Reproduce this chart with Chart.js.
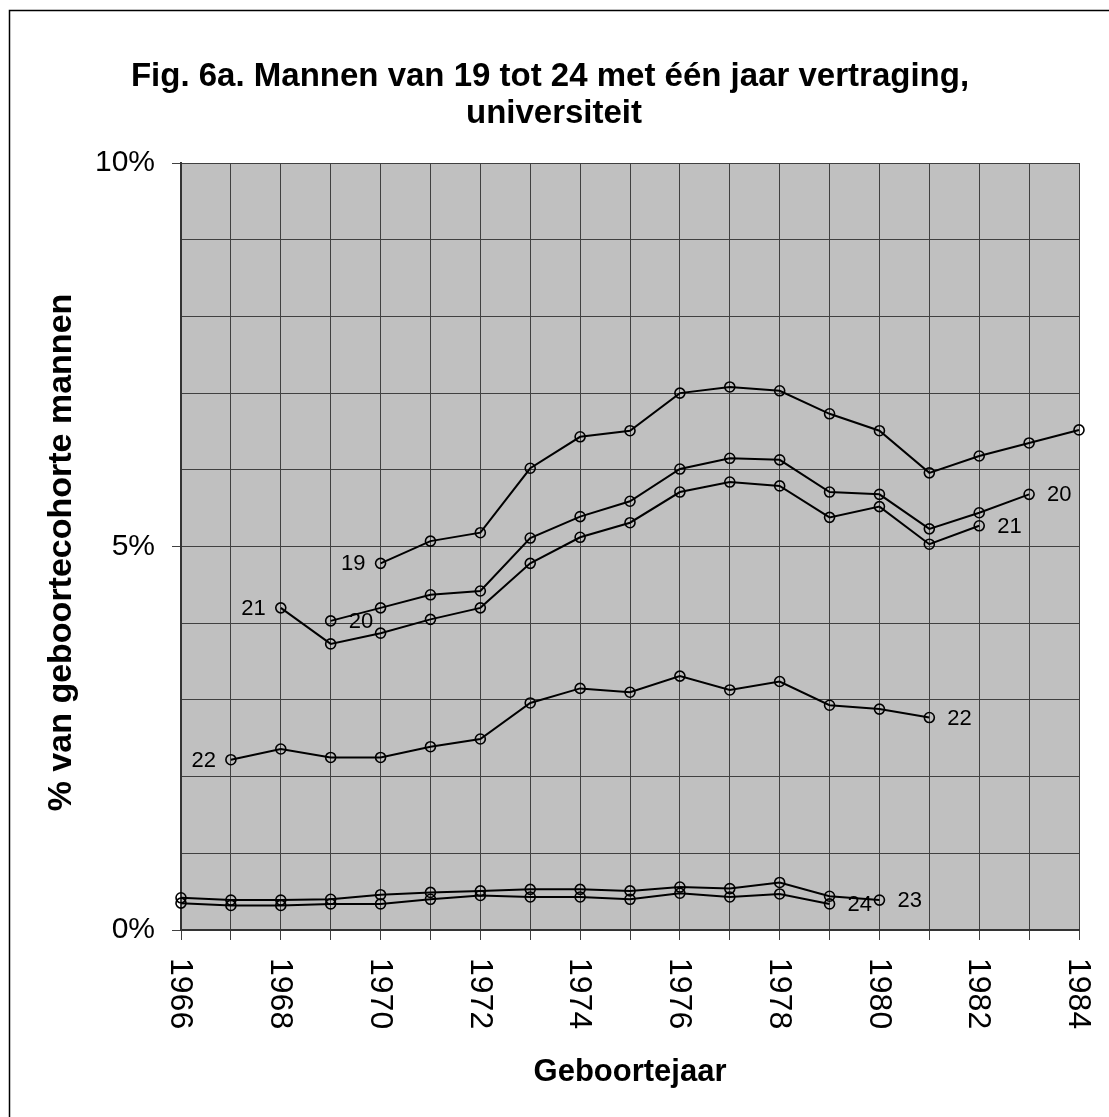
<!DOCTYPE html>
<html>
<head>
<meta charset="utf-8">
<script src="https://cdn.jsdelivr.net/npm/chart.js@4/dist/chart.umd.min.js"></script>
<style>
    html, body { margin: 0; padding: 0; background: #ffffff; }
    #wrap { width: 1109px; height: 1117px; }
</style>
</head>
<body>
<div id="wrap"><canvas id="chart" width="1109" height="1117"></canvas></div>
<script>
const years = ["1966", "1967", "1968", "1969", "1970", "1971", "1972", "1973", "1974", "1975",
    "1976", "1977", "1978", "1979", "1980", "1981", "1982", "1983", "1984"];

// percentages per birth year, null = no observation
const age19 = [null, null, null, null, 4.78, 5.07, 5.18, 6.02, 6.43, 6.51, 7.00, 7.08, 7.03, 6.73, 6.51, 5.96, 6.18, 6.35, 6.52];
const age20 = [null, null, null, 4.03, 4.20, 4.37, 4.42, 5.11, 5.39, 5.59, 6.01, 6.15, 6.13, 5.71, 5.68, 5.23, 5.44, 5.68, null];
const age21 = [null, null, 4.20, 3.73, 3.87, 4.05, 4.20, 4.78, 5.12, 5.31, 5.71, 5.84, 5.79, 5.38, 5.52, 5.03, 5.27, null, null];
const age22 = [null, 2.22, 2.36, 2.25, 2.25, 2.39, 2.49, 2.96, 3.15, 3.10, 3.31, 3.13, 3.24, 2.93, 2.88, 2.77, null, null, null];
const age23 = [0.42, 0.39, 0.39, 0.40, 0.46, 0.49, 0.51, 0.53, 0.53, 0.51, 0.56, 0.54, 0.62, 0.44, 0.39, null, null, null, null];
const age24 = [0.35, 0.32, 0.32, 0.34, 0.34, 0.40, 0.45, 0.43, 0.43, 0.40, 0.48, 0.43, 0.47, 0.34, null, null, null, null, null];

const seriesNames = ["19", "20", "21", "22", "23", "24"];
const yTickLabels = ["0%", "5%", "10%"];

const titleLines = ["Fig. 6a. Mannen van 19 tot 24 met één jaar vertraging,", "universiteit"];
const xTitle = "Geboortejaar";
const yTitle = "% van geboortecohorte mannen";

// where the age numbers are written next to the lines
const lineLabels = [
    { ds: 0, year: "1970", side: "left" },
    { ds: 1, year: "1969", side: "right" },
    { ds: 1, year: "1983", side: "right" },
    { ds: 2, year: "1968", side: "left" },
    { ds: 2, year: "1982", side: "right" },
    { ds: 3, year: "1967", side: "left" },
    { ds: 3, year: "1981", side: "right" },
    { ds: 4, year: "1980", side: "right" },
    { ds: 5, year: "1979", side: "right" },
];

const FONT = '"Liberation Sans", Arial, sans-serif';
const GRID = "#404040";

function makeSeries(label, data) {
    return {
        label: label,
        data: data,
        borderColor: "#000000",
        borderWidth: 2,
        pointRadius: 5,
        pointHoverRadius: 5,
        pointBorderWidth: 1.6,
        pointBorderColor: "#000000",
        pointBackgroundColor: "rgba(0,0,0,0)",
        tension: 0,
        spanGaps: false,
        clip: false,
    };
}

const decorPlugin = {
    id: "decor",
    beforeDraw(chart) {
        const { ctx, chartArea } = chart;
        ctx.save();
        ctx.fillStyle = "#ffffff";
        ctx.fillRect(0, 0, chart.width, chart.height);
        ctx.fillStyle = "#c0c0c0";
        ctx.fillRect(chartArea.left, chartArea.top, chartArea.right - chartArea.left, chartArea.bottom - chartArea.top);
        // outer frame (only top and left visible)
        ctx.strokeStyle = "#000000";
        ctx.lineWidth = 1.5;
        ctx.beginPath();
        ctx.moveTo(9.5, chart.height);
        ctx.lineTo(9.5, 10.5);
        ctx.lineTo(chart.width, 10.5);
        ctx.stroke();
        ctx.restore();
    },
    afterDraw(chart) {
        const { ctx, chartArea } = chart;
        const x = chart.scales.x;
        const y = chart.scales.y;
        ctx.save();
        ctx.fillStyle = "#000000";

        // title
        ctx.font = "bold 33px " + FONT;
        ctx.textAlign = "center";
        ctx.textBaseline = "alphabetic";
        ctx.fillText(titleLines[0], 550, 86);
        ctx.fillText(titleLines[1], 554, 123);

        // x title
        ctx.font = "bold 31px " + FONT;
        ctx.fillText(xTitle, (chartArea.left + chartArea.right) / 2, 1081);

        // y title
        ctx.save();
        ctx.font = "bold 34px " + FONT;
        ctx.translate(62, (chartArea.top + chartArea.bottom) / 2 + 6);
        ctx.rotate(-Math.PI / 2);
        ctx.textBaseline = "middle";
        ctx.fillText(yTitle, 0, 0);
        ctx.restore();

        // year labels, every second year, turned clockwise
        ctx.font = "32px " + FONT;
        for (let i = 0; i < years.length; i += 2) {
            ctx.save();
            ctx.translate(x.getPixelForValue(i), chartArea.bottom + 28);
            ctx.rotate(Math.PI / 2);
            ctx.textAlign = "left";
            ctx.textBaseline = "middle";
            ctx.fillText(years[i], 0, 1);
            ctx.restore();
        }

        // age numbers next to the lines
        ctx.font = "22px " + FONT;
        ctx.textBaseline = "middle";
        lineLabels.forEach((l) => {
            const idx = years.indexOf(l.year);
            const v = chart.data.datasets[l.ds].data[idx];
            const px = x.getPixelForValue(idx);
            const py = y.getPixelForValue(v);
            ctx.textAlign = l.side === "left" ? "right" : "left";
            ctx.fillText(seriesNames[l.ds], l.side === "left" ? px - 15 : px + 18, py + 1);
        });
        ctx.restore();
    },
};

new Chart(document.getElementById("chart"), {
    type: "line",
    data: {
        labels: years,
        datasets: [
            makeSeries(seriesNames[0], age19),
            makeSeries(seriesNames[1], age20),
            makeSeries(seriesNames[2], age21),
            makeSeries(seriesNames[3], age22),
            makeSeries(seriesNames[4], age23),
            makeSeries(seriesNames[5], age24),
        ],
    },
    options: {
        responsive: false,
        animation: false,
        events: [],
        layout: { padding: { left: 0, right: 30, top: 163, bottom: 0 } },
        plugins: {
            legend: { display: false },
            title: { display: false },
            tooltip: { enabled: false },
        },
        scales: {
            x: {
                type: "category",
                offset: false,
                grid: {
                    color: GRID,
                    lineWidth: 1,
                    drawTicks: true,
                    tickLength: 10,
                    tickColor: GRID,
                    offset: false,
                },
                border: { display: true, color: "#333333", width: 2 },
                ticks: { display: false, autoSkip: false },
                afterFit: (scale) => { scale.height = 187; },
            },
            y: {
                min: 0,
                max: 10,
                grid: {
                    color: GRID,
                    lineWidth: 1,
                    tickLength: 9,
                    tickColor: (c) => (c.tick && c.tick.value % 5 === 0 ? GRID : "rgba(0,0,0,0)"),
                },
                border: { display: true, color: "#333333", width: 2 },
                ticks: {
                    stepSize: 1,
                    padding: 17,
                    color: "#000000",
                    font: { family: FONT, size: 30 },
                    callback: (v) => (v % 5 === 0 ? yTickLabels[v / 5] : ""),
                },
                afterFit: (scale) => { scale.width = 181; },
            },
        },
    },
    plugins: [decorPlugin],
});
</script>
</body>
</html>
